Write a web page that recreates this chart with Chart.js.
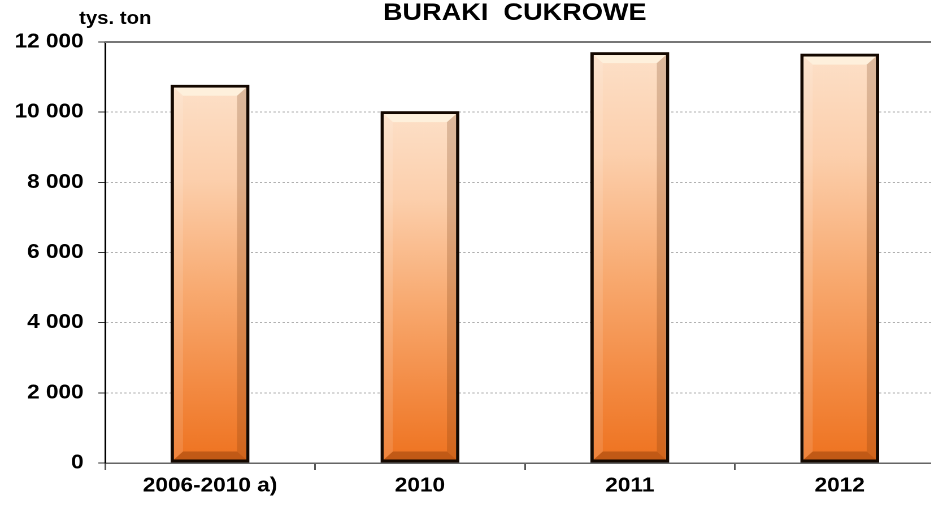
<!DOCTYPE html>
<html>
<head>
<meta charset="utf-8">
<script src="https://cdn.jsdelivr.net/npm/chart.js@4.4.1/dist/chart.umd.min.js"></script>
<style>
  html, body { margin: 0; padding: 0; background: #fff; overflow: hidden; }
  #wrap { width: 840px; height: 506px; transform: scaleX(1.13); transform-origin: 0 0; }
</style>
</head>
<body>
<div id="wrap"><canvas id="barChart"></canvas></div>
<script>
// data
const categories = ['2006-2010 a)', '2010', '2011', '2012'];
const values = [10780, 10030, 11710, 11670];
const yMin = 0, yMax = 12000, yStep = 2000;
const titleText = 'BURAKI  CUKROWE';
const unitText = 'tys. ton';

const FONT = '"Liberation Sans", Arial, sans-serif';

function fmt(v) {
  return String(v).replace(/\B(?=(\d{3})+(?!\d))/g, ' ');
}

// gradient per bar, from its base to its top
function barFill(ctx) {
  const chart = ctx.chart;
  if (!chart.chartArea || ctx.type !== 'data') return '#f5a060';
  const ys = chart.scales.y;
  const top = ys.getPixelForValue(ctx.raw);
  const base = ys.getPixelForValue(0);
  const g = chart.ctx.createLinearGradient(0, top, 0, base);
  g.addColorStop(0, '#fde0c8');
  g.addColorStop(0.25, '#fccfac');
  g.addColorStop(0.55, '#f8a96f');
  g.addColorStop(0.8, '#f38a42');
  g.addColorStop(1, '#ee721f');
  return g;
}

// bevel look on the bars, top border line, title and unit label
const extras = {
  id: 'extras',
  beforeDatasetsDraw(chart) {
    const c = chart.ctx, a = chart.chartArea;
    c.save();
    c.strokeStyle = '#777';
    c.lineWidth = 2;
    c.beginPath();
    c.moveTo(a.left, a.top);
    c.lineTo(a.right, a.top);
    c.stroke();
    c.restore();
  },
  afterDatasetsDraw(chart) {
    const c = chart.ctx;
    const meta = chart.getDatasetMeta(0);
    meta.data.forEach(bar => {
      const bw = 3;
      const l = bar.x - bar.width / 2 + bw, r = bar.x + bar.width / 2 - bw;
      const t = bar.y + bw, b = bar.base - bw;
      const s = 8;
      c.save();
      // top
      c.fillStyle = 'rgba(255,252,235,0.6)';
      c.beginPath();
      c.moveTo(l, t); c.lineTo(r, t); c.lineTo(r - s, t + s); c.lineTo(l + s, t + s);
      c.closePath(); c.fill();
      // left
      c.fillStyle = 'rgba(255,255,255,0.12)';
      c.beginPath();
      c.moveTo(l, t); c.lineTo(l + s, t + s); c.lineTo(l + s, b - s); c.lineTo(l, b);
      c.closePath(); c.fill();
      // right
      c.fillStyle = 'rgba(110,50,10,0.22)';
      c.beginPath();
      c.moveTo(r, t); c.lineTo(r, b); c.lineTo(r - s, b - s); c.lineTo(r - s, t + s);
      c.closePath(); c.fill();
      // bottom
      c.fillStyle = 'rgba(110,40,0,0.35)';
      c.beginPath();
      c.moveTo(l, b); c.lineTo(r, b); c.lineTo(r - s, b - s); c.lineTo(l + s, b - s);
      c.closePath(); c.fill();
      c.restore();
    });
    const a = chart.chartArea;
    c.save();
    c.fillStyle = '#000';
    c.textBaseline = 'alphabetic';
    // title
    c.font = 'bold 24px ' + FONT;
    c.textAlign = 'center';
    c.fillText(titleText, (a.left + a.right) / 2 - 9, 20);
    // unit label
    c.font = 'bold 18px ' + FONT;
    c.textAlign = 'left';
    c.fillText(unitText, a.left - 23, a.top - 18);
    c.restore();
  }
};

const ctx = document.getElementById('barChart').getContext('2d');
const chart = new Chart(ctx, {
  type: 'bar',
  data: {
    labels: categories,
    datasets: [{
      data: values,
      backgroundColor: barFill,
      borderColor: '#140800',
      borderWidth: 3,
      borderSkipped: false,
      categoryPercentage: 1,
      barPercentage: 0.376
    }]
  },
  options: {
    responsive: true,
    maintainAspectRatio: false,
    animation: false,
    devicePixelRatio: 2,
    layout: { padding: { left: 0, right: 4, top: 42, bottom: 4 } },
    plugins: {
      legend: { display: false },
      tooltip: { enabled: false },
      title: { display: false }
    },
    scales: {
      x: {
        grid: { display: true, drawOnChartArea: false, drawTicks: true, tickLength: 7, color: '#555', lineWidth: 1.5 },
        border: { display: true, color: '#666', width: 1.5 },
        ticks: {
          color: '#000',
          padding: 4,
          font: { family: FONT, size: 20, weight: 'bold', lineHeight: 1.2 }
        }
      },
      y: {
        min: yMin,
        max: yMax,
        afterFit(scale) { scale.width = 93; },
        grid: { color: '#b0b0b0', lineWidth: 1, drawTicks: true, tickLength: 6, tickColor: '#333', tickBorderDash: [] },
        border: { display: true, color: '#000', width: 1.5, dash: [2, 2] },
        ticks: {
          stepSize: yStep,
          color: '#000',
          padding: 13,
          callback: v => fmt(v),
          font: { family: FONT, size: 20, weight: 'bold' }
        }
      }
    }
  },
  plugins: [extras]
});
</script>
</body>
</html>
